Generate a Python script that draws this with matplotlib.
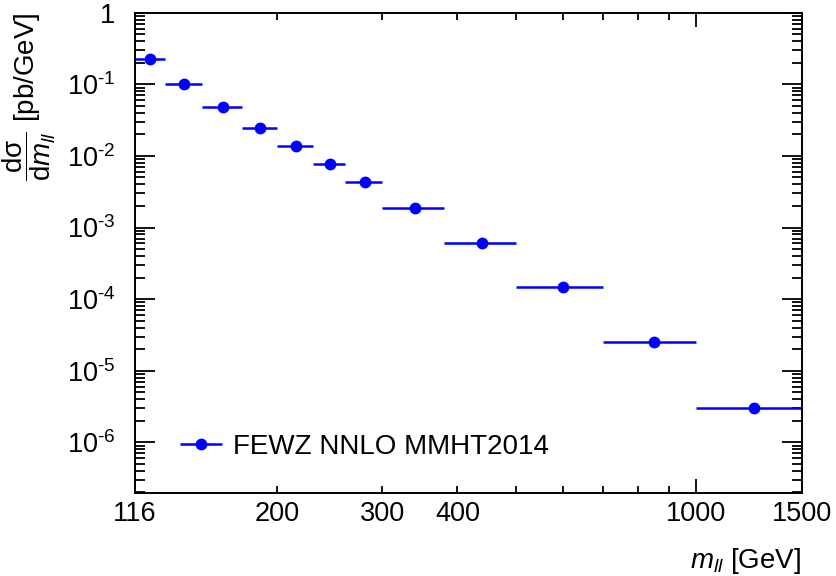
import numpy as np
import matplotlib
matplotlib.use('Agg')
import matplotlib.pyplot as plt
from matplotlib.ticker import FixedLocator, FuncFormatter, NullFormatter
from matplotlib.legend_handler import HandlerErrorbar
from matplotlib.container import ErrorbarContainer

plt.rcParams['font.family'] = ['Liberation Sans', 'DejaVu Sans']
plt.rcParams['mathtext.fontset'] = 'custom'
plt.rcParams['mathtext.rm'] = 'Liberation Sans'
plt.rcParams['mathtext.it'] = 'Liberation Sans:italic'
plt.rcParams['mathtext.bf'] = 'Liberation Sans:bold'

# mass bin edges [GeV] and cross section per bin [pb/GeV]
bin_edges = [116, 130, 150, 175, 200, 230, 260, 300, 380, 500, 700, 1000, 1500]
xsec = [0.224, 0.100, 0.0477, 0.0248, 0.0136, 0.00763, 0.00428, 0.00189,
        6.08e-4, 1.48e-4, 2.55e-5, 3.04e-6]
label = 'FEWZ NNLO MMHT2014'

x_labels = {116: '116', 200: '200', 300: '300', 400: '400', 1000: '1000', 1500: '1500'}
y_ticks = [1, 1e-1, 1e-2, 1e-3, 1e-4, 1e-5, 1e-6]
# short hyphen in the exponent instead of the math minus
y_labels = ['1'] + ['$10^{\\mathrm{\u2010%d}}$' % k for k in range(1, 7)]

edges = np.array(bin_edges, dtype=float)
centers = 0.5 * (edges[1:] + edges[:-1])
xerr = [centers - edges[:-1], edges[1:] - centers]

fig = plt.figure(figsize=(8.37, 5.76), dpi=100)
ax = fig.add_axes([0.1613, 0.1446, 0.9578 - 0.1613, 0.978 - 0.1446])

ax.errorbar(centers, xsec, xerr=xerr, fmt='o', color='#0000ff', ms=7.5,
            elinewidth=1.8, capsize=0, label=label)

ax.set_xscale('log')
ax.set_yscale('log')
ax.set_xlim(116, 1500)
ax.set_ylim(1.98e-7, 1)

# x axis: long tick only at 1000, short ones elsewhere
ax.xaxis.set_major_locator(FixedLocator([1000]))
ax.xaxis.set_major_formatter(FuncFormatter(lambda v, p: '1000'))
ax.xaxis.set_minor_locator(FixedLocator([116, 200, 300, 400, 500, 600, 700, 800, 900, 1500]))
ax.xaxis.set_minor_formatter(FuncFormatter(lambda v, p: x_labels.get(int(round(v)), '')))

ax.yaxis.set_major_locator(FixedLocator(y_ticks))
ax.set_yticklabels(y_labels)
ax.yaxis.set_minor_locator(FixedLocator(
    [m * 10.0 ** e for e in range(-7, 0) for m in range(2, 10)]))
ax.yaxis.set_minor_formatter(NullFormatter())

for s in ax.spines.values():
    s.set_linewidth(1.4)
ax.tick_params(axis='both', which='both', direction='in', top=True, right=True,
               width=1.3, labelsize=19.5)
ax.tick_params(axis='x', which='major', length=10, pad=6)
ax.tick_params(axis='x', which='minor', length=5, pad=6)
ax.tick_params(axis='y', which='major', length=14.5, pad=14)
ax.tick_params(axis='y', which='minor', length=7.5, pad=14)

ax.set_xlabel(r'$m_{ll}$ [GeV]', fontsize=20, loc='right', labelpad=14)
ax.set_ylabel(r'$\dfrac{\mathrm{d\sigma}}{\mathrm{d}m_{ll}}$ [pb/GeV]', fontsize=20,
              loc='top', labelpad=6)

ax.legend(loc='lower left', bbox_to_anchor=(0.049, 0.045), frameon=False,
          fontsize=20, handlelength=1.6, handletextpad=0.35, borderaxespad=0.0,
          handler_map={ErrorbarContainer: HandlerErrorbar(xerr_size=0.75)})

fig.savefig('out.png', dpi=100)
